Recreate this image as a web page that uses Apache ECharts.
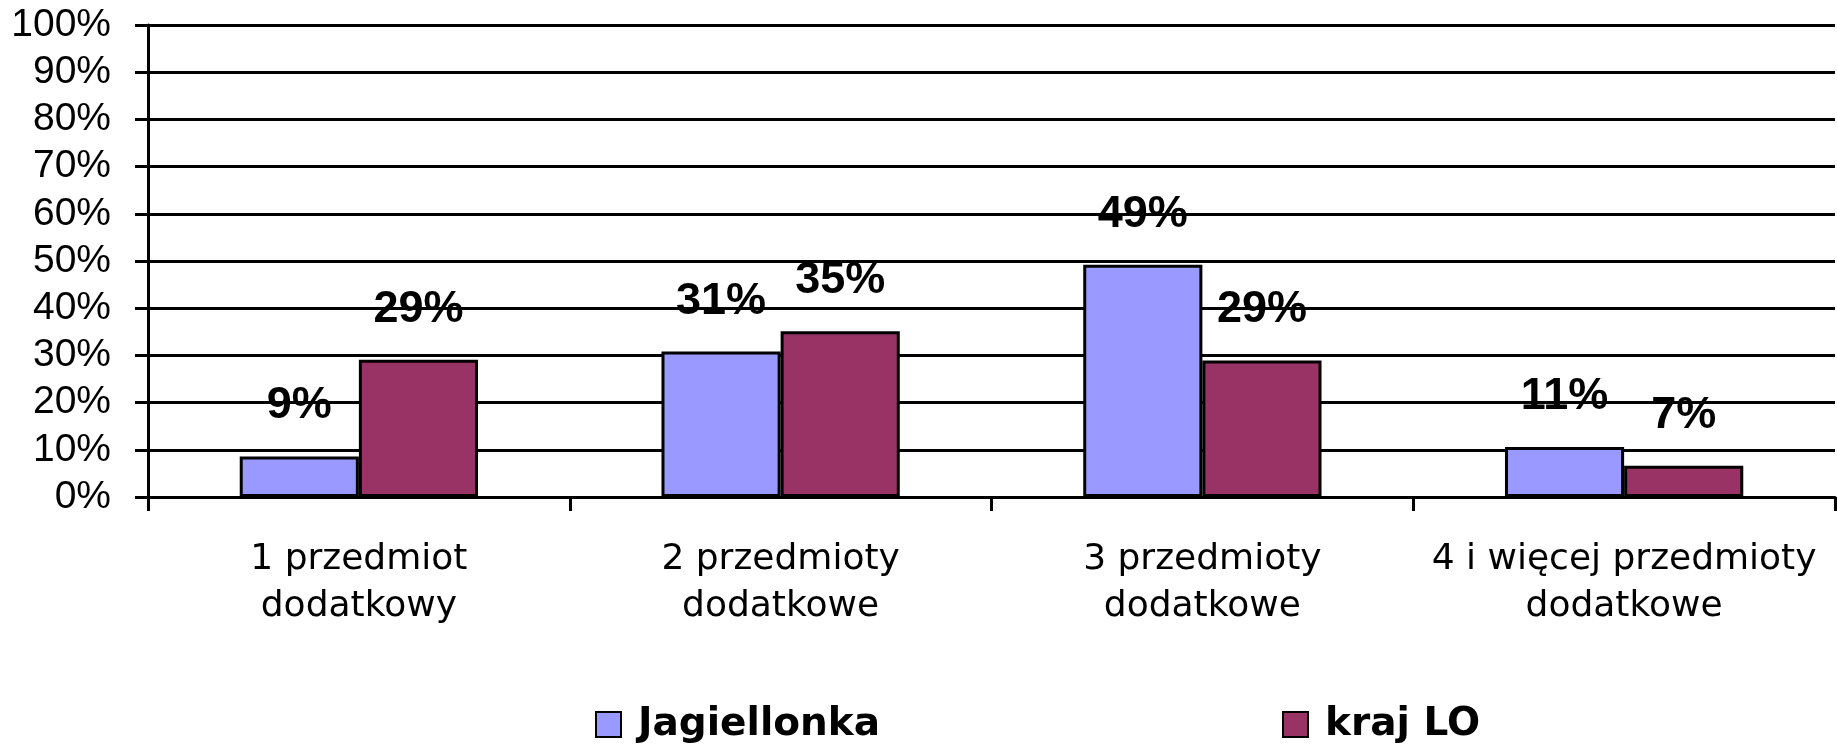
<!DOCTYPE html>
<html>
<head>
<meta charset="utf-8">
<script src="https://cdn.jsdelivr.net/npm/echarts@6/dist/echarts.min.js"></script>
<style>
html,body{margin:0;padding:0;background:#fff;}
#c{width:1837px;height:744px;}
</style>
</head>
<body>
<div id="c"></div>
<script>
const categories = [
  "1 przedmiot\ndodatkowy",
  "2 przedmioty\ndodatkowe",
  "3 przedmioty\ndodatkowe",
  "4 i więcej przedmioty\ndodatkowe"
];
const seriesNames = ["Jagiellonka", "kraj LO"];
const jagiellonka = [8.6, 30.8, 49.2, 10.6];
const krajLO = [29.1, 35.1, 28.9, 6.6];
const colors = ["#9999FF", "#993366"];
const yMin = 0, yMax = 100, yStep = 10;

const chart = echarts.init(document.getElementById('c'), null, {renderer: 'canvas'});

const labelCfg = {
  show: true,
  position: 'top',
  distance: 28,
  color: '#000',
  fontFamily: 'Liberation Sans, Arial, sans-serif',
  fontWeight: 'bold',
  fontSize: 45,
  lineHeight: 45,
  formatter: p => Math.round(p.value) + '%'
};

function mkSeries(name, data, color) {
  return {
    name: name,
    type: 'bar',
    data: data,
    barGap: '0%',
    barCategoryGap: '43.5%',
    itemStyle: {color: color, borderColor: '#000', borderWidth: 3},
    label: labelCfg,
    animation: false
  };
}

const legendText = {
  fontFamily: 'DejaVu Sans, sans-serif',
  fontWeight: 'bold',
  fontSize: 39,
  color: '#000',
  padding: [0, 0, 0, 12]
};

chart.setOption({
  animation: false,
  backgroundColor: '#fff',
  grid: {left: 148, right: 2, top: 25, bottom: 247, containLabel: false},
  legend: [
    {data: [seriesNames[0]], left: 590, top: 700, itemWidth: 25, itemHeight: 25,
     icon: 'rect', textStyle: legendText, selectedMode: false},
    {data: [seriesNames[1]], left: 1277, top: 700, itemWidth: 25, itemHeight: 25,
     icon: 'rect', textStyle: legendText, selectedMode: false}
  ],
  xAxis: {
    type: 'category',
    data: categories,
    boundaryGap: true,
    axisLine: {show: true, lineStyle: {color: '#000', width: 3}},
    axisTick: {show: true, length: 14, interval: 0, alignWithLabel: false, lineStyle: {color: '#000', width: 3}},
    axisLabel: {
      interval: 0,
      margin: 39,
      color: '#000',
      fontFamily: 'DejaVu Sans, sans-serif',
      fontSize: 36,
      lineHeight: 47
    }
  },
  yAxis: {
    type: 'value',
    min: yMin, max: yMax, interval: yStep,
    axisLine: {show: true, lineStyle: {color: '#000', width: 3}},
    axisTick: {show: true, length: 13, lineStyle: {color: '#000', width: 3}},
    splitLine: {show: true, lineStyle: {color: '#000', width: 3}},
    axisLabel: {
      margin: 37,
      color: '#000',
      fontFamily: 'Liberation Sans, Arial, sans-serif',
      fontSize: 39,
      formatter: '{value}%'
    }
  },
  series: [
    mkSeries(seriesNames[0], jagiellonka, colors[0]),
    mkSeries(seriesNames[1], krajLO, colors[1])
  ]
});
</script>
</body>
</html>
